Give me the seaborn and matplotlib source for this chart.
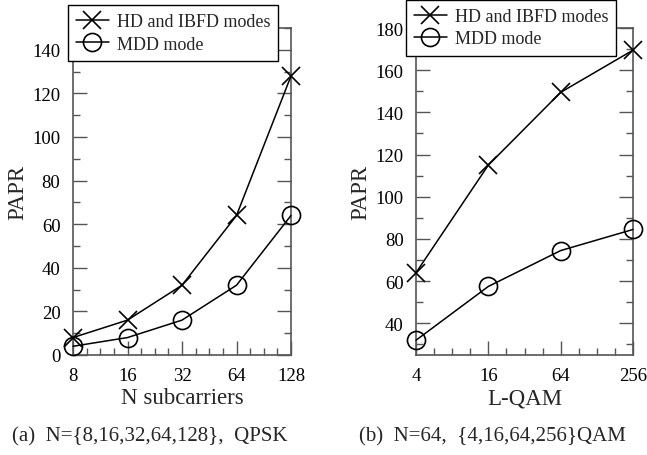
import numpy as np
import pandas as pd
import matplotlib
matplotlib.use("Agg")
import matplotlib.pyplot as plt
import matplotlib.ticker as mticker
import seaborn as sns

# Data
n_sub = [8, 16, 32, 64, 128]
papr_hd_n = [8, 16, 32, 64, 128]
papr_mdd_n = [4, 8, 16, 32, 64]

qam = [4, 16, 64, 256]
papr_hd_q = [64, 115, 149.5, 169.5]
papr_mdd_q = [32, 57.5, 74.5, 84.5]

lab_hd = "HD and IBFD modes"
lab_mdd = "MDD mode"

sns.set_theme(style="white")
plt.rcParams['font.family'] = ['Liberation Serif', 'DejaVu Serif']

fig = plt.figure(figsize=(6.47, 4.56), dpi=100)
ax1 = fig.add_axes([73/647, 1-356/456, 218/647, 327/456])
ax2 = fig.add_axes([416/647, 1-356/456, 217/647, 327/456])

def draw(ax, x, hd, mdd):
    df_hd = pd.DataFrame({"x": x, "y": hd})
    df_mdd = pd.DataFrame({"x": x, "y": mdd})
    sns.lineplot(data=df_hd, x="x", y="y", ax=ax, color="black", lw=1.1,
                 marker="x", markersize=13, markeredgewidth=1.2,
                 markeredgecolor="black",
                 label=lab_hd, clip_on=False, zorder=5)
    sns.lineplot(data=df_mdd, x="x", y="y", ax=ax, color="black", lw=1.1,
                 marker="o", markersize=13, markerfacecolor="none",
                 markeredgecolor="black", markeredgewidth=1.2,
                 label=lab_mdd, clip_on=False, zorder=5)

draw(ax1, n_sub, papr_hd_n, papr_mdd_n)
draw(ax2, qam, papr_hd_q, papr_mdd_q)

def style(ax, x, ylim, ymaj, xlabel, lx, ly):
    ax.set_xscale('log', base=2)
    ax.set_xlim(x[0], x[-1])
    ax.set_ylim(*ylim)
    ax.xaxis.set_major_locator(mticker.FixedLocator(x))
    ax.xaxis.set_major_formatter(mticker.FixedFormatter([str(v) for v in x]))
    lo = np.log2(x[0]); hi = np.log2(x[-1]); step = np.log2(x[1]) - lo
    minors = [2 ** (lo + k * step / 4) for k in range(int(round((hi - lo) / step * 4)) + 1)]
    ax.xaxis.set_minor_locator(mticker.FixedLocator(minors))
    ax.xaxis.set_minor_formatter(mticker.NullFormatter())
    ax.yaxis.set_major_locator(mticker.MultipleLocator(ymaj))
    ax.yaxis.set_minor_locator(mticker.MultipleLocator(ymaj / 2))
    ax.yaxis.set_minor_formatter(mticker.NullFormatter())
    ax.tick_params(axis='both', which='both', direction='in', colors='#555555',
                   labelcolor='black', labelsize=13.5, width=1)
    ax.tick_params(axis='y', which='both', left=True, right=True, pad=9)
    ax.tick_params(axis='x', which='both', bottom=True, top=False, pad=9)
    ax.tick_params(which='major', length=10)
    ax.tick_params(which='minor', length=5)
    for s in ax.spines.values():
        s.set_color('#555555')
        s.set_linewidth(1.2)
    ax.set_xlabel(xlabel, fontsize=16.5, labelpad=2)
    ax.set_ylabel("PAPR", fontsize=16.5, labelpad=3)
    leg = ax.legend(loc='upper left', bbox_to_anchor=(lx, ly), borderaxespad=0,
                    fontsize=13, frameon=True, fancybox=False, framealpha=1,
                    edgecolor='black', handlelength=1.8, handletextpad=0.45,
                    borderpad=0.45, labelspacing=0.3)
    leg.get_frame().set_linewidth(1.0)
    leg.set_zorder(10)

style(ax1, n_sub, (0, 150), 20, "N subcarriers", -0.023, 1.070)
style(ax2, qam, (25, 180), 20, "L-QAM", -0.046, 1.086)

fig.text(150/647, 1-437/456, "(a)  N={8,16,32,64,128},  QPSK", ha='center', va='center', fontsize=15)
fig.text(492/647, 1-437/456, "(b)  N=64,  {4,16,64,256}QAM", ha='center', va='center', fontsize=15)

fig.savefig("out.png", dpi=100)
